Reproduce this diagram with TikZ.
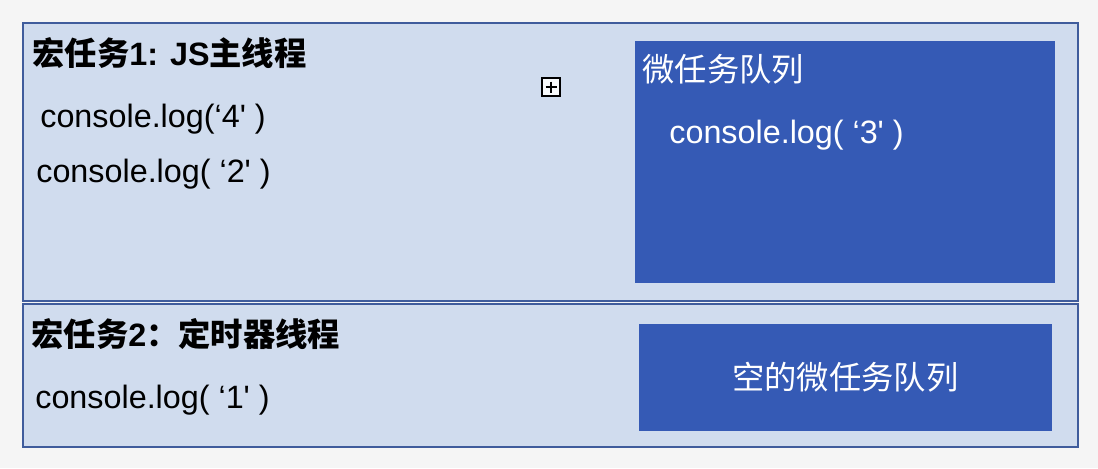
\documentclass[tikz,border=0pt]{standalone}
\usepackage{fontspec}
\setmainfont{Liberation Sans}
\newfontfamily\cjk{Noto Sans CJK SC}
\usepackage{xcolor}
\usepackage{tikz}
\usetikzlibrary{positioning}

\definecolor{pagegray}{HTML}{F5F5F5}
\definecolor{lanefill}{HTML}{D0DCEE}
\definecolor{laneline}{HTML}{3F5C9C}
\definecolor{queueblue}{HTML}{355AB5}

\begin{document}
\begin{tikzpicture}[
    x=0.02cm,
    y=-0.02cm,
    lane/.style={rectangle, draw=laneline, fill=lanefill, line width=1pt, anchor=north west, inner sep=0pt, outer sep=0pt},
    queue/.style={rectangle, fill=queueblue, anchor=north west, inner sep=0pt, outer sep=0pt},
    headtext/.style={anchor=base west, inner sep=0pt, font=\fontsize{18.4}{22}\selectfont\bfseries},
    logtext/.style={anchor=base west, inner sep=0pt, font=\fontsize{18.4}{22}\selectfont},
    togglebox/.style={rectangle, draw, line width=1pt, fill=white!85!lanefill, minimum size=0.36cm, inner sep=0pt}
]
% Page
\fill[pagegray] (0,0) rectangle (1098,468);

% Lanes
\def\xL{23}
\def\xQ{635}

% Rows
\def\yA{23}
\def\yB{304}

% === Macro task 1 ===
\node[lane, minimum width=21.1cm, minimum height=5.56cm] (macroA) at (\xL,\yA) {};
\node[headtext] (headA) at (32,65) {{\cjk 宏任务}1: JS{\cjk 主线程}};
\node[logtext] (logFour) at (40,127) {console.log(‘4\textquotesingle{} )};
\node[logtext] (logTwo) at (36,182) {console.log( ‘2\textquotesingle{} )};

% toggle mark
\node[togglebox] (toggle) at (551,87) {};
\draw[line width=1pt] (toggle.center) +(-5.5,0) -- +(5.5,0);
\draw[line width=1pt] (toggle.center) +(0,-5.5) -- +(0,5.5);

% micro task queue
\node[queue, minimum width=8.4cm, minimum height=4.84cm] (queueA) at (\xQ,41) {};
\node[logtext, text=white, font=\fontsize{18.4}{22}\selectfont\cjk] (queueAhead) at (642,81) {微任务队列};
\node[logtext, text=white] (logThree) at (669,143) {console.log( ‘3\textquotesingle{} )};

% === Macro task 2 ===
\node[lane, minimum width=21.1cm, minimum height=2.86cm] (macroB) at (\xL,\yB) {};
\node[headtext] (headB) at (31,346) {{\cjk 宏任务}2{\cjk ：定时器线程}};
\node[logtext] (logOne) at (35,408) {console.log( ‘1\textquotesingle{} )};

% empty micro task queue
\node[queue, minimum width=8.26cm, minimum height=2.14cm] (queueB) at (639,324) {};
\node[text=white, font=\fontsize{18.4}{22}\selectfont\cjk] (queueBhead) at (queueB.center) {空的微任务队列};
\end{tikzpicture}
\end{document}
